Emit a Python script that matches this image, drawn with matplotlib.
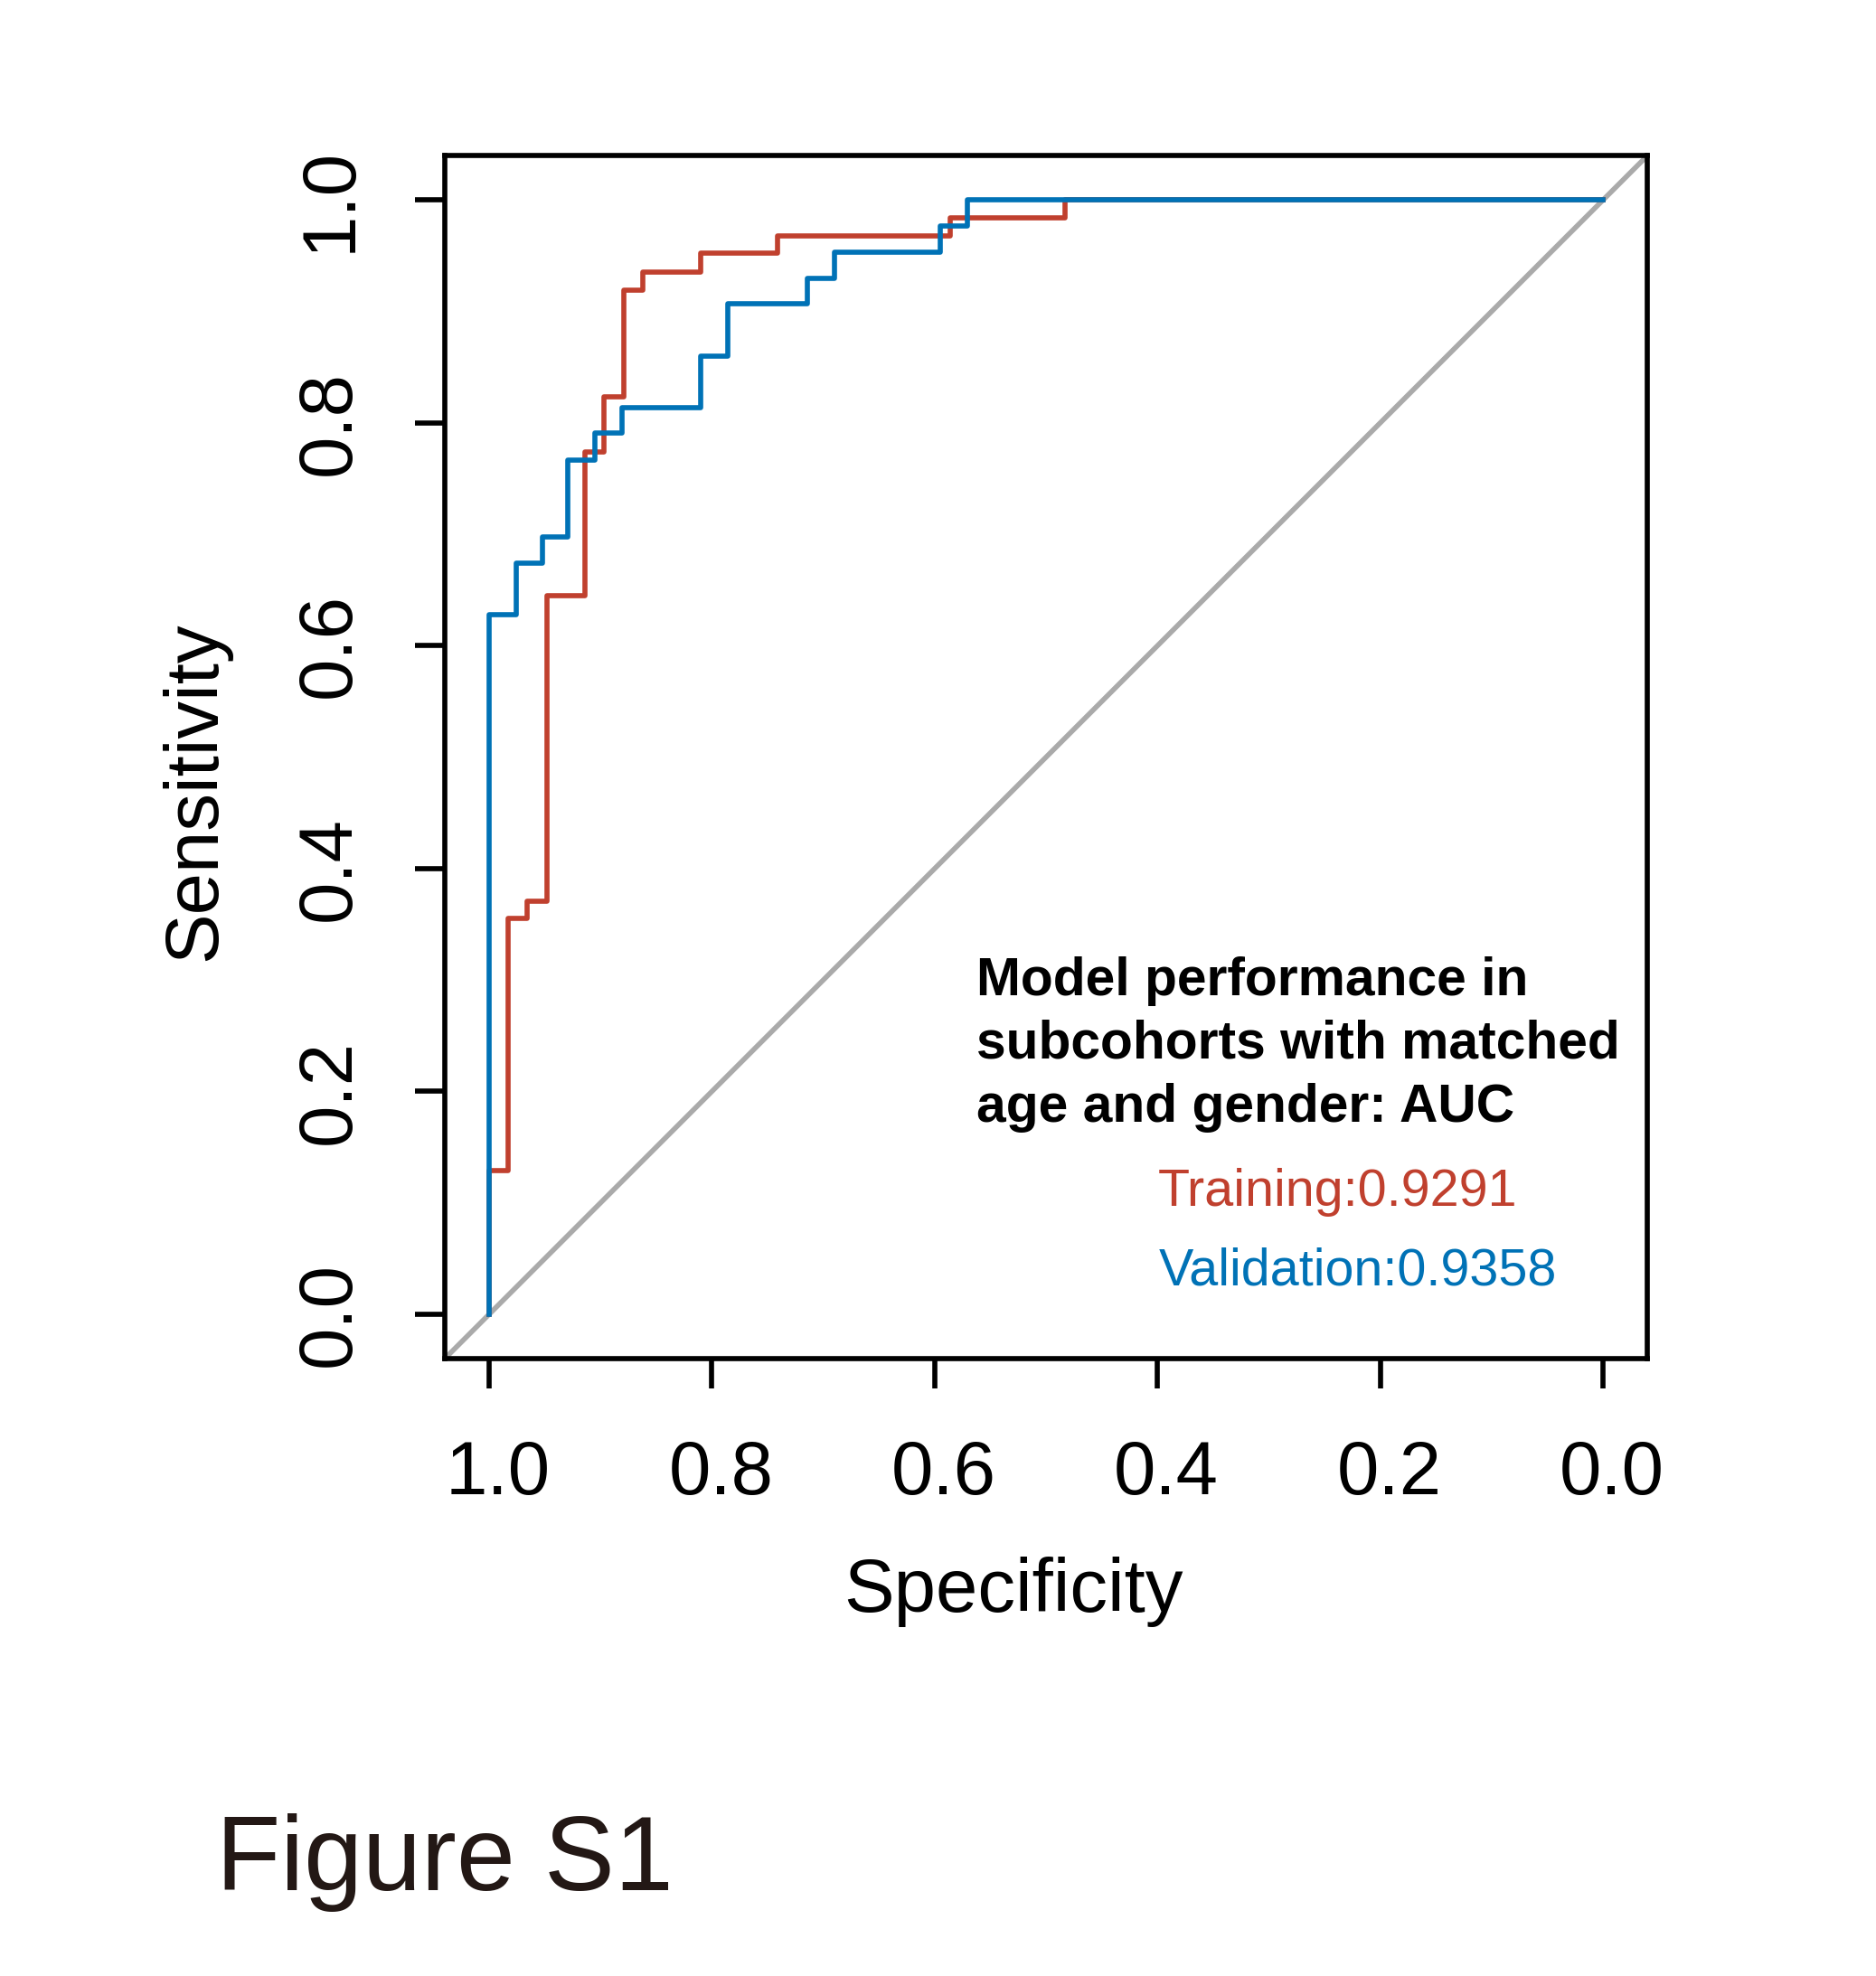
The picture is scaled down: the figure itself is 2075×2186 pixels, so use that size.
"""
ROC-кривые: обучающая и валидационная подвыборки (Figure S1)
"""

import numpy as np
import matplotlib

matplotlib.use("Agg")
import matplotlib.pyplot as plt
from matplotlib.transforms import ScaledTranslation

# Данные: точки, где кривая поднимается вверх
train_spec = [1.0, 0.983, 0.966, 0.948, 0.914, 0.897, 0.879, 0.862, 0.810, 0.741, 0.586, 0.483, 0.0]
train_sens = [0.129, 0.355, 0.371, 0.645, 0.774, 0.823, 0.919, 0.935, 0.952, 0.968, 0.984, 1.0, 1.0]

val_spec = [1.0, 0.976, 0.952, 0.929, 0.905, 0.881, 0.810, 0.786, 0.714, 0.690, 0.595, 0.571, 0.0]
val_sens = [0.628, 0.674, 0.698, 0.767, 0.791, 0.814, 0.860, 0.907, 0.930, 0.953, 0.977, 1.0, 1.0]

auc_train = "0.9291"
auc_val = "0.9358"

ticks = [0.0, 0.2, 0.4, 0.6, 0.8, 1.0]
legend_title = ["Model performance in", "subcohorts with matched", "age and gender: AUC"]

RED = "#C0402E"
BLUE = "#0072B6"
GREY = "#AAAAAA"

W, H, DPI = 2075, 2186, 300
LW = 1.35


def fx(px):
    return px / W


def fy(py):
    return 1 - py / H


plt.rcParams["font.family"] = ["Liberation Sans", "DejaVu Sans"]

fig = plt.figure(figsize=(W / DPI, H / DPI), dpi=DPI)
ax = fig.add_axes([fx(491.7), fy(1503.3), (1822.3 - 491.7) / W, (1503.3 - 172.0) / H])

# диагональ
ax.plot([1.04, -0.04], [-0.04, 1.04], color=GREY, lw=LW, solid_capstyle="butt")

# ROC-кривые
ax.step(np.r_[1.0, train_spec], np.r_[0.0, train_sens], where="post", color=RED, lw=LW)
ax.step(np.r_[1.0, val_spec], np.r_[0.0, val_sens], where="post", color=BLUE, lw=LW)

ax.set_xlim(1.04, -0.04)
ax.set_ylim(-0.04, 1.04)
ax.set_xticks(ticks)
ax.set_xticklabels([f"{t:.1f}" for t in ticks])
ax.set_yticks(ticks)
ax.set_yticklabels([f"{t:.1f}" for t in ticks], rotation=90, va="center")

for sp in ax.spines.values():
    sp.set_linewidth(LW)

ax.tick_params(direction="out", length=8, width=LW, labelsize=20)
ax.tick_params(axis="x", pad=13.2)
ax.tick_params(axis="y", pad=13.0)

# небольшой сдвиг подписей по оси X, как на оригинале
shift = ScaledTranslation(10 / DPI, 0, fig.dpi_scale_trans)
for lbl in ax.get_xticklabels():
    lbl.set_transform(lbl.get_transform() + shift)

# подписи осей
fig.text(fx(1120.5), fy(1783.3), "Specificity", fontsize=20, ha="center", va="baseline")
fig.text(fx(238.3), fy(874.7), "Sensitivity", fontsize=20, rotation=90,
         rotation_mode="anchor", ha="center", va="baseline")

# легенда
for line, base in zip(legend_title, [1101.0, 1170.8, 1240.7]):
    fig.text(fx(1080.0), fy(base), line, fontsize=14.1, fontweight="bold",
             ha="left", va="baseline")
fig.text(fx(1281.0), fy(1334.3), "Training:" + auc_train, fontsize=13.8,
         color=RED, ha="left", va="baseline")
fig.text(fx(1282.0), fy(1421.7), "Validation:" + auc_val, fontsize=13.8,
         color=BLUE, ha="left", va="baseline")

fig.text(fx(239.0), fy(2090.7), "Figure S1", fontsize=28, color="#231815",
         ha="left", va="baseline")

fig.savefig("out.png", dpi=DPI)
